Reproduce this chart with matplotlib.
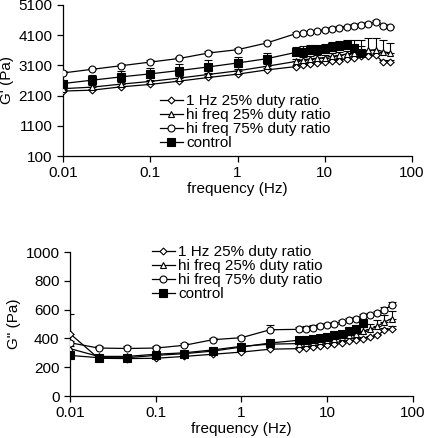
import matplotlib
matplotlib.use("Agg")
import matplotlib.pyplot as plt
import numpy as np

plt.rcParams['font.family'] = ['Liberation Sans', 'DejaVu Sans']

freq = [0.01, 0.0215, 0.0464, 0.1, 0.215, 0.464, 1, 2.15,
        4.64, 5.62, 6.81, 8.25, 10.0, 12.1, 14.7, 17.8, 21.5, 26.1, 31.6, 38.3, 46.4, 56.2]
labels = ["1 Hz 25% duty ratio", "hi freq 25% duty ratio", "hi freq 75% duty ratio", "control"]

# G' (Pa)
g1_1hz25 = [2250, 2280, 2390, 2470, 2580, 2700, 2810, 2950,
            3060, 3120, 3150, 3180, 3200, 3230, 3260, 3310, 3340, 3400, 3420, 3450, 3210, 3210]
g1_hi25 = [2330, 2380, 2480, 2570, 2680, 2800, 2920, 3070,
           3230, 3290, 3310, 3340, 3360, 3400, 3430, 3480, 3510, 3540, 3600, 3620, 3560, 3510]
g1_hi75 = [2850, 2970, 3090, 3210, 3330, 3510, 3620, 3840,
           4150, 4170, 4190, 4230, 4260, 4310, 4340, 4370, 4420, 4440, 4480, 4540, 4420, 4370]
g1_ctrl = [2500, 2610, 2720, 2820, 2930, 3050, 3180, 3320,
           3530, 3560, 3600, 3620, 3650, 3700, 3750, 3780, 3680, 3510]
e1_1hz25 = [40, 40, 40, 40, 40, 40, 50, 50, 50, 50, 50, 50, 50, 50, 50, 50, 60, 60, 60, 60, 60, 60]
e1_hi25 = [60, 60, 60, 60, 60, 60, 70, 70, 90, 90, 90, 100, 100, 100, 110, 110, 150, 200, 400, 380, 380, 330]
e1_hi75 = [60, 60, 60, 60, 60, 60, 60, 70, 50, 50, 50, 50, 50, 50, 50, 50, 50, 50, 50, 50, 50, 50]
e1_ctrl = [120, 180, 190, 200, 200, 220, 200, 190, 180, 180, 180, 170, 170, 160, 160, 150, 250, 420]

# G'' (Pa)
g2_1hz25 = [433, 262, 260, 262, 275, 290, 305, 325,
            329, 336, 340, 347, 357, 364, 371, 382, 391, 398, 409, 421, 456, 468]
g2_hi25 = [329, 275, 275, 290, 300, 320, 345, 360,
           364, 371, 375, 382, 391, 398, 409, 421, 433, 451, 463, 484, 514, 537]
g2_hi75 = [370, 333, 330, 333, 352, 391, 405, 460,
           463, 468, 475, 484, 491, 502, 514, 525, 537, 553, 560, 577, 600, 630]
g2_ctrl = [282, 266, 266, 282, 294, 312, 340, 368,
           387, 391, 398, 403, 410, 421, 433, 451, 468, 507]
e2_1hz25 = [133, 10, 10, 10, 10, 10, 10, 10, 10, 10, 10, 10, 10, 10, 10, 10, 10, 10, 10, 10, 15, 15]
e2_hi25 = [20, 10, 10, 10, 10, 10, 10, 10, 10, 10, 10, 10, 10, 10, 15, 20, 25, 30, 40, 45, 50, 50]
e2_hi75 = [15, 15, 15, 15, 15, 15, 15, 30, 15, 15, 15, 15, 15, 15, 15, 15, 15, 15, 15, 15, 20, 25]
e2_ctrl = [15, 10, 10, 10, 10, 10, 10, 10, 10, 10, 10, 10, 10, 10, 10, 10, 10, 10]

W, H = 425, 438
fig = plt.figure(figsize=(W / 100, H / 100), dpi=100)
FS = 11

styles = [dict(marker='D', ms=3.5, mfc='white'),
          dict(marker='^', ms=4.5, mfc='white'),
          dict(marker='o', ms=5, mfc='white'),
          dict(marker='s', ms=6, mfc='black')]


def draw(ax, series, errs, ylim, yticks, ylabel, leg_xy):
    handles = []
    for ys, es, st, lab in zip(series, errs, styles, labels):
        x = freq[:len(ys)]
        ax.errorbar(x, ys, yerr=[np.zeros(len(es)), es], fmt='none', ecolor='black',
                    elinewidth=0.8, capsize=3, capthick=0.8, zorder=2)
        h, = ax.plot(x, ys, color='black', lw=0.9, mec='black', mew=0.8, label=lab,
                     zorder=3, **st)
        handles.append(h)
    ax.set_xscale('log')
    ax.set_xlim(0.01, 100)
    ax.set_xticks([0.01, 0.1, 1, 10, 100])
    ax.set_xticklabels(['0.01', '0.1', '1', '10', '100'])
    ax.xaxis.set_minor_locator(matplotlib.ticker.NullLocator())
    ax.set_ylim(*ylim)
    ax.set_yticks(yticks)
    ax.tick_params(labelsize=FS, length=4, width=0.9, direction='out')
    for s in ['top', 'right']:
        ax.spines[s].set_visible(False)
    for s in ['left', 'bottom']:
        ax.spines[s].set_linewidth(0.9)
    ax.set_xlabel('frequency (Hz)', fontsize=FS, labelpad=1)
    ax.set_ylabel(ylabel, fontsize=FS, labelpad=3)
    ax.legend(handles=handles, loc='upper left', bbox_to_anchor=leg_xy,
              bbox_transform=fig.transFigure, frameon=False, fontsize=FS,
              borderpad=0, borderaxespad=0, handlelength=1.5, handletextpad=0.2,
              labelspacing=0.0)


ax1 = fig.add_axes([63 / W, 1 - 156 / H, (412 - 63) / W, (156 - 5) / H])
draw(ax1, [g1_1hz25, g1_hi25, g1_hi75, g1_ctrl], [e1_1hz25, e1_hi25, e1_hi75, e1_ctrl],
     (100, 5100), [100, 1100, 2100, 3100, 4100, 5100], "G' (Pa)", (160 / W, 1 - 94 / H))

ax2 = fig.add_axes([70 / W, 1 - 396 / H, (413 - 70) / W, (396 - 252) / H])
draw(ax2, [g2_1hz25, g2_hi25, g2_hi75, g2_ctrl], [e2_1hz25, e2_hi25, e2_hi75, e2_ctrl],
     (0, 1000), [0, 200, 400, 600, 800, 1000], 'G" (Pa)', (152 / W, 1 - 245 / H))

fig.savefig('out.png', dpi=100)
